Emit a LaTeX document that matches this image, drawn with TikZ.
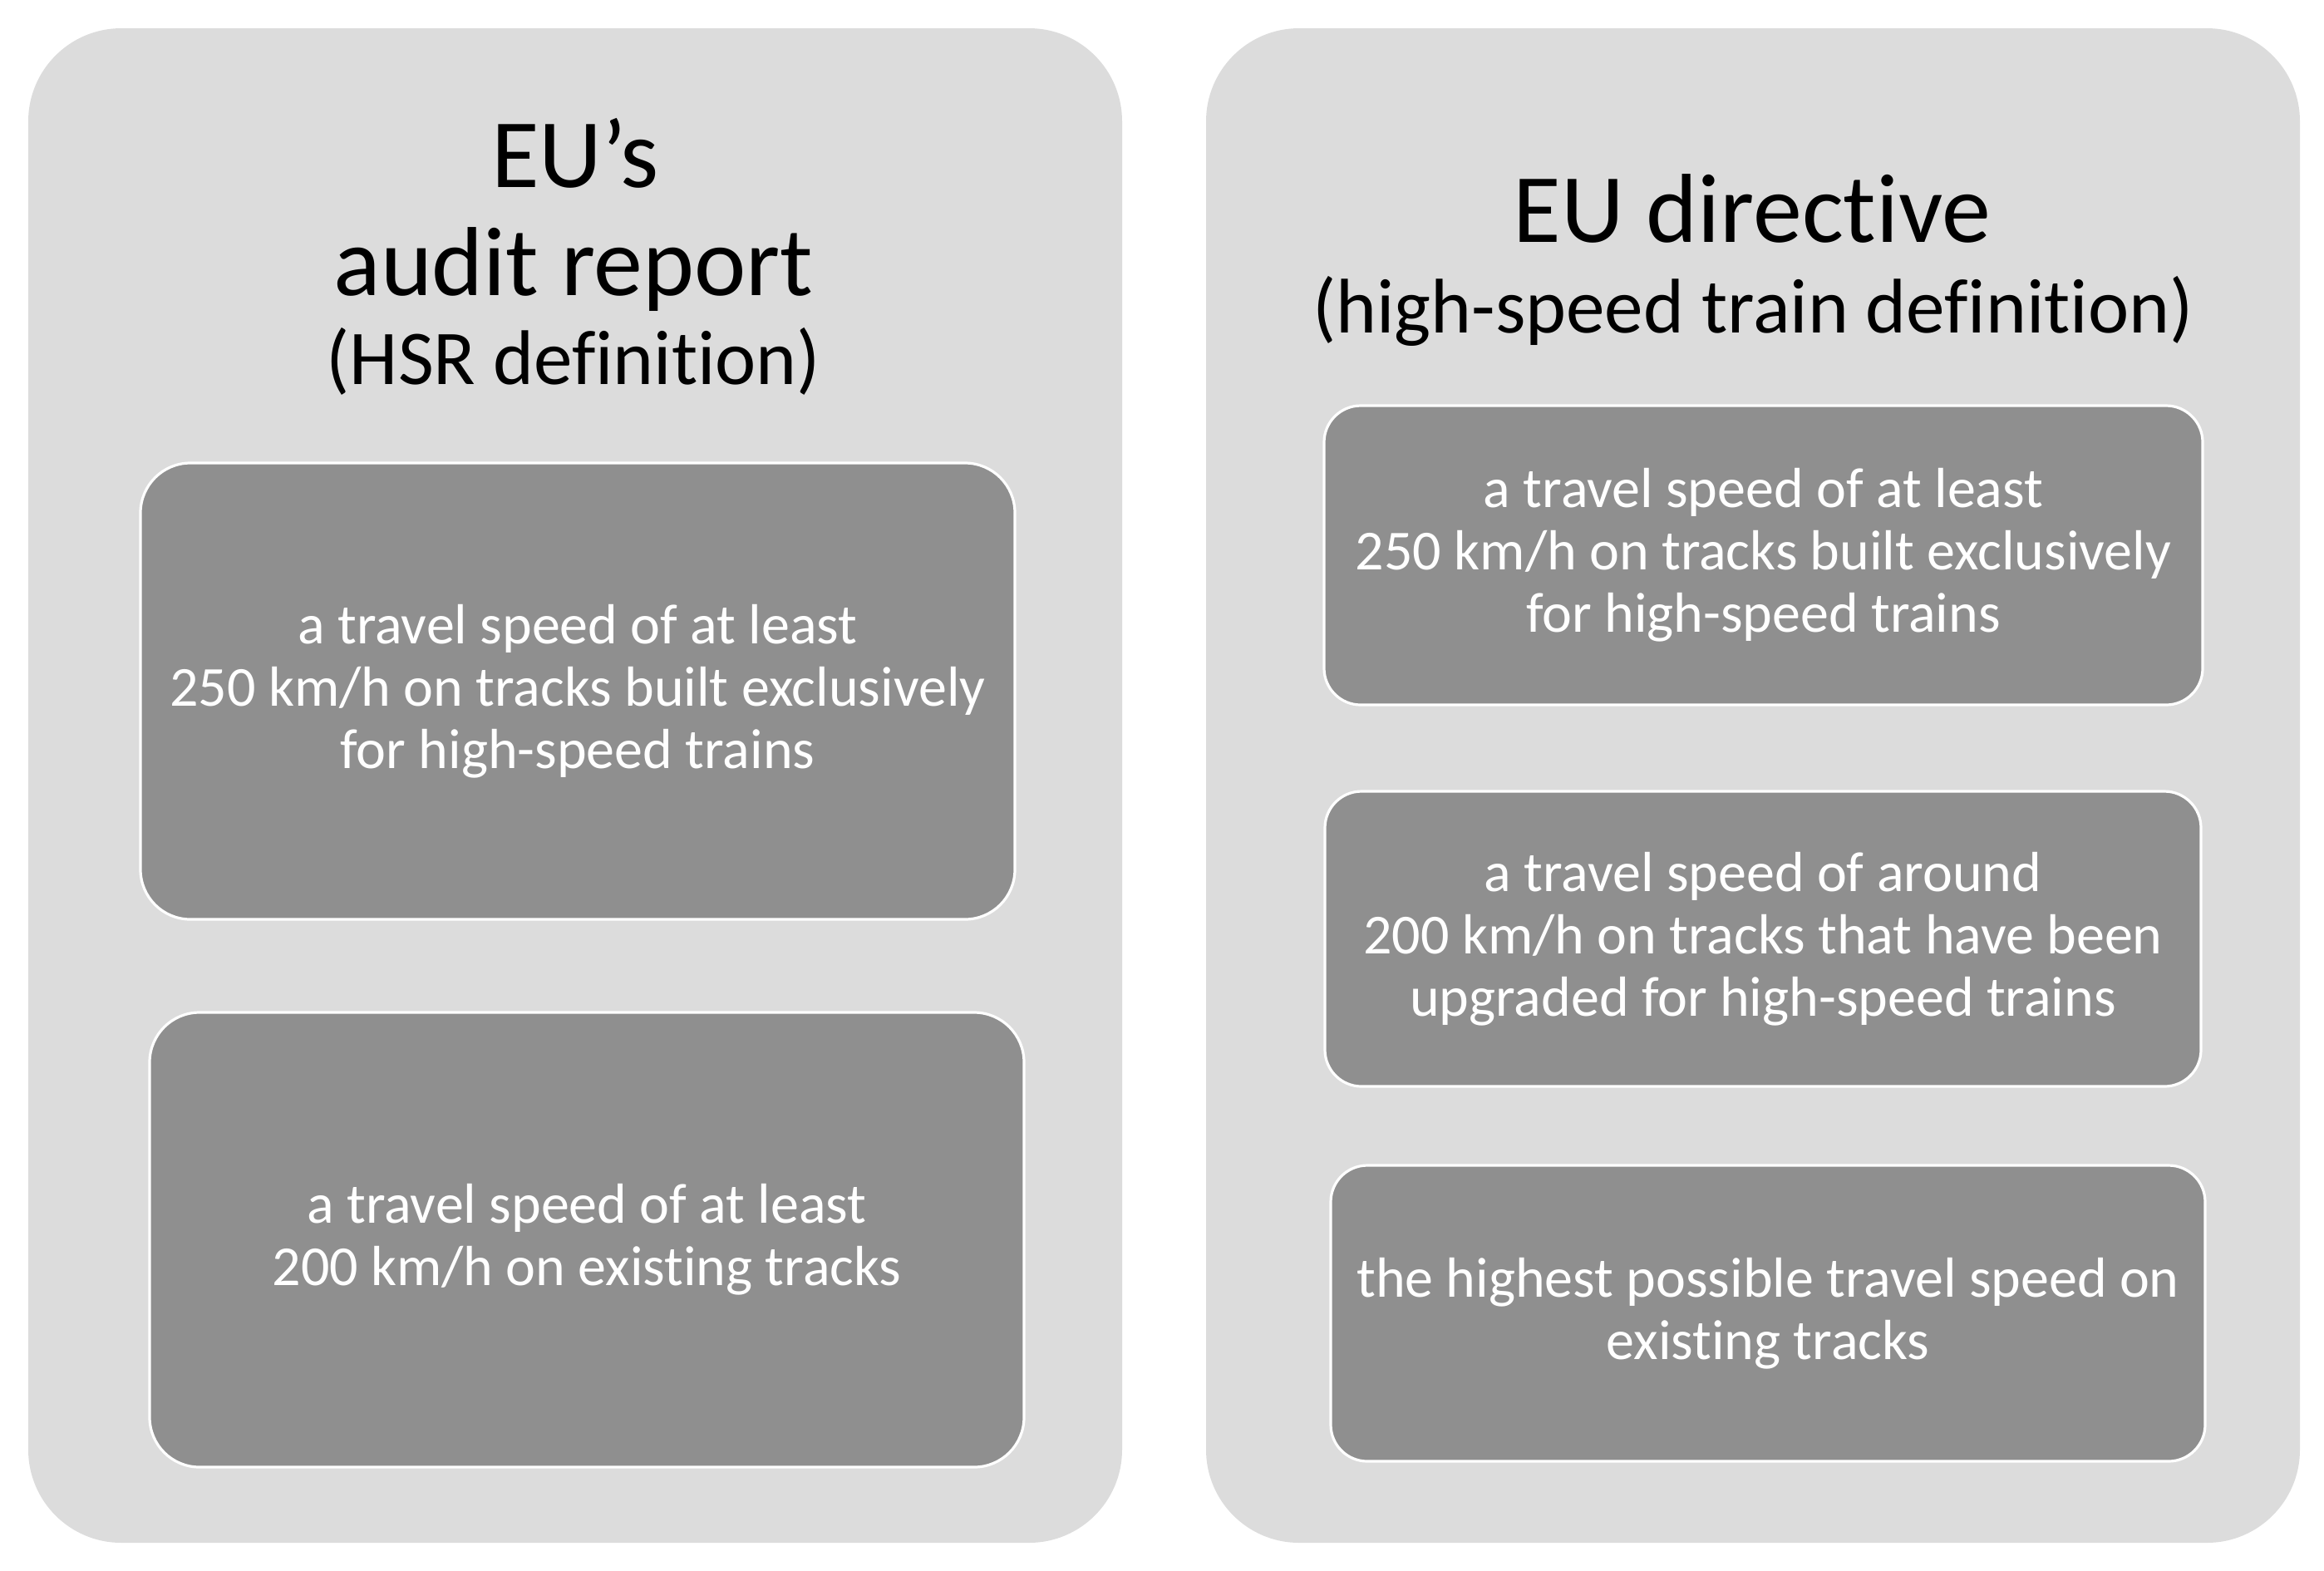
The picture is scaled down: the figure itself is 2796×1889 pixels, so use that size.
\documentclass[tikz,border=0pt]{standalone}
\usepackage{fontspec}
\setmainfont{Carlito}[Ligatures=NoCommon]
\definecolor{panelgray}{HTML}{DCDCDC}
\definecolor{boxgray}{HTML}{8F8F8F}
\tikzset{
  panel/.style={fill=panelgray, draw=none, rounded corners=28pt, inner sep=0pt, outer sep=0pt},
  defbox/.style={fill=boxgray, draw=white, line width=0.8pt, inner sep=0pt, outer sep=0pt,
    text=white, align=center, font=\fontsize{17}{18.7}\selectfont},
  bigtitle/.style={anchor=base, inner sep=0pt, font=\fontsize{29.5}{32}\selectfont},
  subtitle/.style={anchor=base, inner sep=0pt, font=\fontsize{23.3}{26}\selectfont}
}
\begin{document}
\begin{tikzpicture}[x=0.25pt, y=-0.25pt]
\useasboundingbox[fill=white] (0,0) rectangle (2796,1889);
% panels
\node[panel, minimum width=1316*0.25pt, minimum height=1822*0.25pt] (lp) at (692,945) {};
\node[panel, minimum width=1316*0.25pt, minimum height=1822*0.25pt] (rp) at (2109,945) {};
% titles
\node[bigtitle] (lt1) at (692,225) {EU’s};
\node[bigtitle] (lt2) at (690,355) {audit report};
\node[subtitle] (lt3) at (690,462) {(HSR definition)};
\node[bigtitle] (rt1) at (2108,291) {EU directive};
\node[subtitle] (rt2) at (2109,400) {(high-speed train definition)};
% left boxes
\node[defbox, rounded corners=15pt, minimum width=1052*0.25pt, minimum height=549*0.25pt] (b1) at (695,831.5)
  {a travel speed of at least\\250 km/h on tracks built exclusively\\for high-speed trains};
\node[defbox, rounded corners=15pt, minimum width=1052*0.25pt, minimum height=547*0.25pt] (b2) at (706,1491.5)
  {a travel speed of at least\\200 km/h on existing tracks};
% right boxes
\node[defbox, rounded corners=11pt, minimum width=1057*0.25pt, minimum height=360*0.25pt] (b3) at (2121.5,668)
  {a travel speed of at least\\250 km/h on tracks built exclusively\\for high-speed trains};
\node[defbox, rounded corners=11pt, minimum width=1054*0.25pt, minimum height=355*0.25pt] (b4) at (2121,1129.5)
  {a travel speed of around\\200 km/h on tracks that have been\\upgraded for high-speed trains};
\node[defbox, rounded corners=11pt, minimum width=1052*0.25pt, minimum height=356*0.25pt] (b5) at (2127,1580)
  {the highest possible travel speed on\\existing tracks};
\end{tikzpicture}
\end{document}
